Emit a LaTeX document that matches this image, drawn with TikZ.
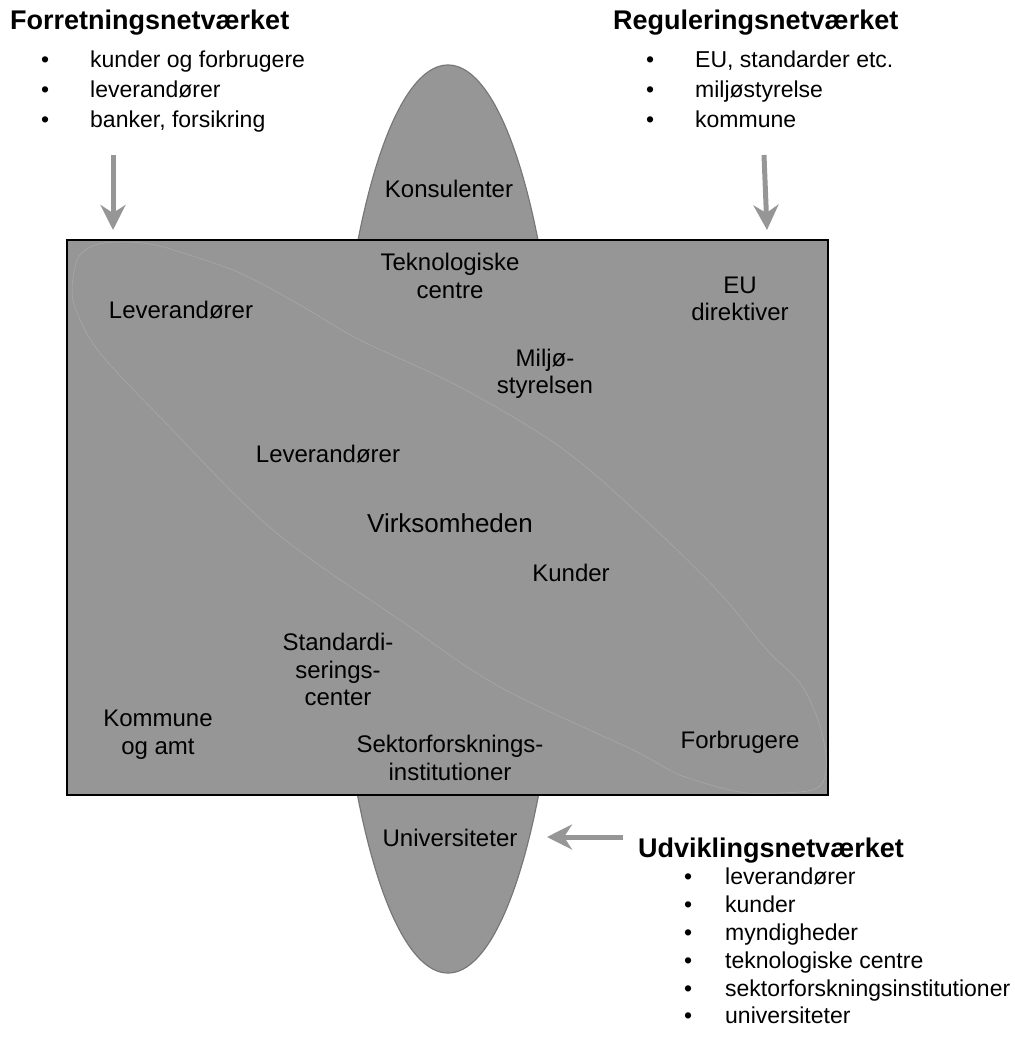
\documentclass[tikz,border=0pt]{standalone}
\usepackage{fontspec}
\setmainfont{Liberation Sans}
\usetikzlibrary{arrows.meta}
\definecolor{boxfill}{RGB}{150,150,150}
\definecolor{ellline}{RGB}{120,120,120}
\definecolor{diagline}{RGB}{170,170,170}
\definecolor{arrgray}{RGB}{150,150,150}
\tikzset{
  lbl/.style={font=\fontsize{24}{27.5}\selectfont, align=center, inner sep=0pt},
  hdr/.style={font=\fontsize{27}{30}\selectfont\bfseries, anchor=base west, inner sep=0pt},
  blist/.style={font=\fontsize{23}{30}\selectfont, anchor=north west, align=left, inner sep=0pt},
  arr/.style={draw=arrgray, line width=5pt, -{Stealth[length=25pt,width=25pt,inset=8pt]}},
}
\newcommand{\bul}[1]{\makebox[49pt][l]{•}#1}
\begin{document}
\begin{tikzpicture}[x=1pt,y=-1pt]
\useasboundingbox (0,0) rectangle (1015,1045);
% vertical ellipse behind the box
\draw[fill=boxfill, draw=ellline, line width=1.2pt] (448,519) ellipse [x radius=114, y radius=454];
% main box
\node[draw=black, fill=boxfill, line width=2pt, minimum width=761pt, minimum height=555pt, inner sep=0pt] (box) at (447.5,517.5) {};
% faint diagonal enclosure
\begin{scope}
\clip (67,240) rectangle (828,795);
\draw[diagline, line width=0.5pt] plot[smooth cycle, tension=0.55] coordinates {
 (72,290) (78,258) (95,245) (120,242) (150,244) (180,252) (240,273) (300,305)
 (360,340) (460,387) (560,447) (640,515) (717,590) (767,650) (800,683) (818,720)
 (826,755) (824,780) (812,790) (780,793) (740,792) (680,775) (633,750) (500,687)
 (400,620) (273,530) (160,417) (100,353) (78,315)};
\end{scope}
% labels inside
\node[lbl] (kons) at (449,189) {Konsulenter};
\node[lbl] (tekn) at (450,276) {Teknologiske\\centre};
\node[lbl] (lev1) at (181,310) {Leverandører};
\node[lbl] (eu) at (740,299) {EU\\direktiver};
\node[lbl] (milj) at (545,374) {Miljø-\\styrelsen};
\node[lbl] (lev2) at (328,454) {Leverandører};
\node[lbl, font=\fontsize{26}{30}\selectfont] (virk) at (450,523) {Virksomheden};
\node[lbl] (kund) at (571,573) {Kunder};
\node[lbl] (stan) at (338,669.5) {Standardi-\\serings-\\center};
\node[lbl] (komm) at (158,734.5) {Kommune\\og amt};
\node[lbl] (sekt) at (450,758) {Sektorforsknings-\\institutioner};
\node[lbl] (forb) at (740,742) {Forbrugere};
\node[lbl] (univ) at (450,838) {Universiteter};
% headers
\node[hdr] (hforr) at (10,29) {Forretningsnetværket};
\node[hdr] (hregu) at (613,29) {Reguleringsnetværket};
\node[hdr] (hudvi) at (638,857) {Udviklingsnetværket};
% bullet lists
\node[blist] (lforr) at (41,51) {\bul{kunder og forbrugere}\\\bul{leverandører}\\\bul{banker, forsikring}};
\node[blist] (lregu) at (646,51) {\bul{EU, standarder etc.}\\\bul{miljøstyrelse}\\\bul{kommune}};
\node[blist, font=\fontsize{23}{27.8}\selectfont] (ludvi) at (684,868) {\makebox[41pt][l]{•}leverandører\\\makebox[41pt][l]{•}kunder\\\makebox[41pt][l]{•}myndigheder\\\makebox[41pt][l]{•}teknologiske centre\\\makebox[41pt][l]{•}sektorforskningsinstitutioner\\\makebox[41pt][l]{•}universiteter};
% arrows
\coordinate (a1s) at (113,155);
\coordinate (a1e) at (113,230);
\coordinate (a2s) at (764,155);
\coordinate (a2e) at (767,230);
\coordinate (a3s) at (623,837);
\coordinate (a3e) at (547,837);
\draw[arr] (a1s) -- (a1e);
\draw[arr] (a2s) -- (a2e);
\draw[arr] (a3s) -- (a3e);
\end{tikzpicture}
\end{document}
